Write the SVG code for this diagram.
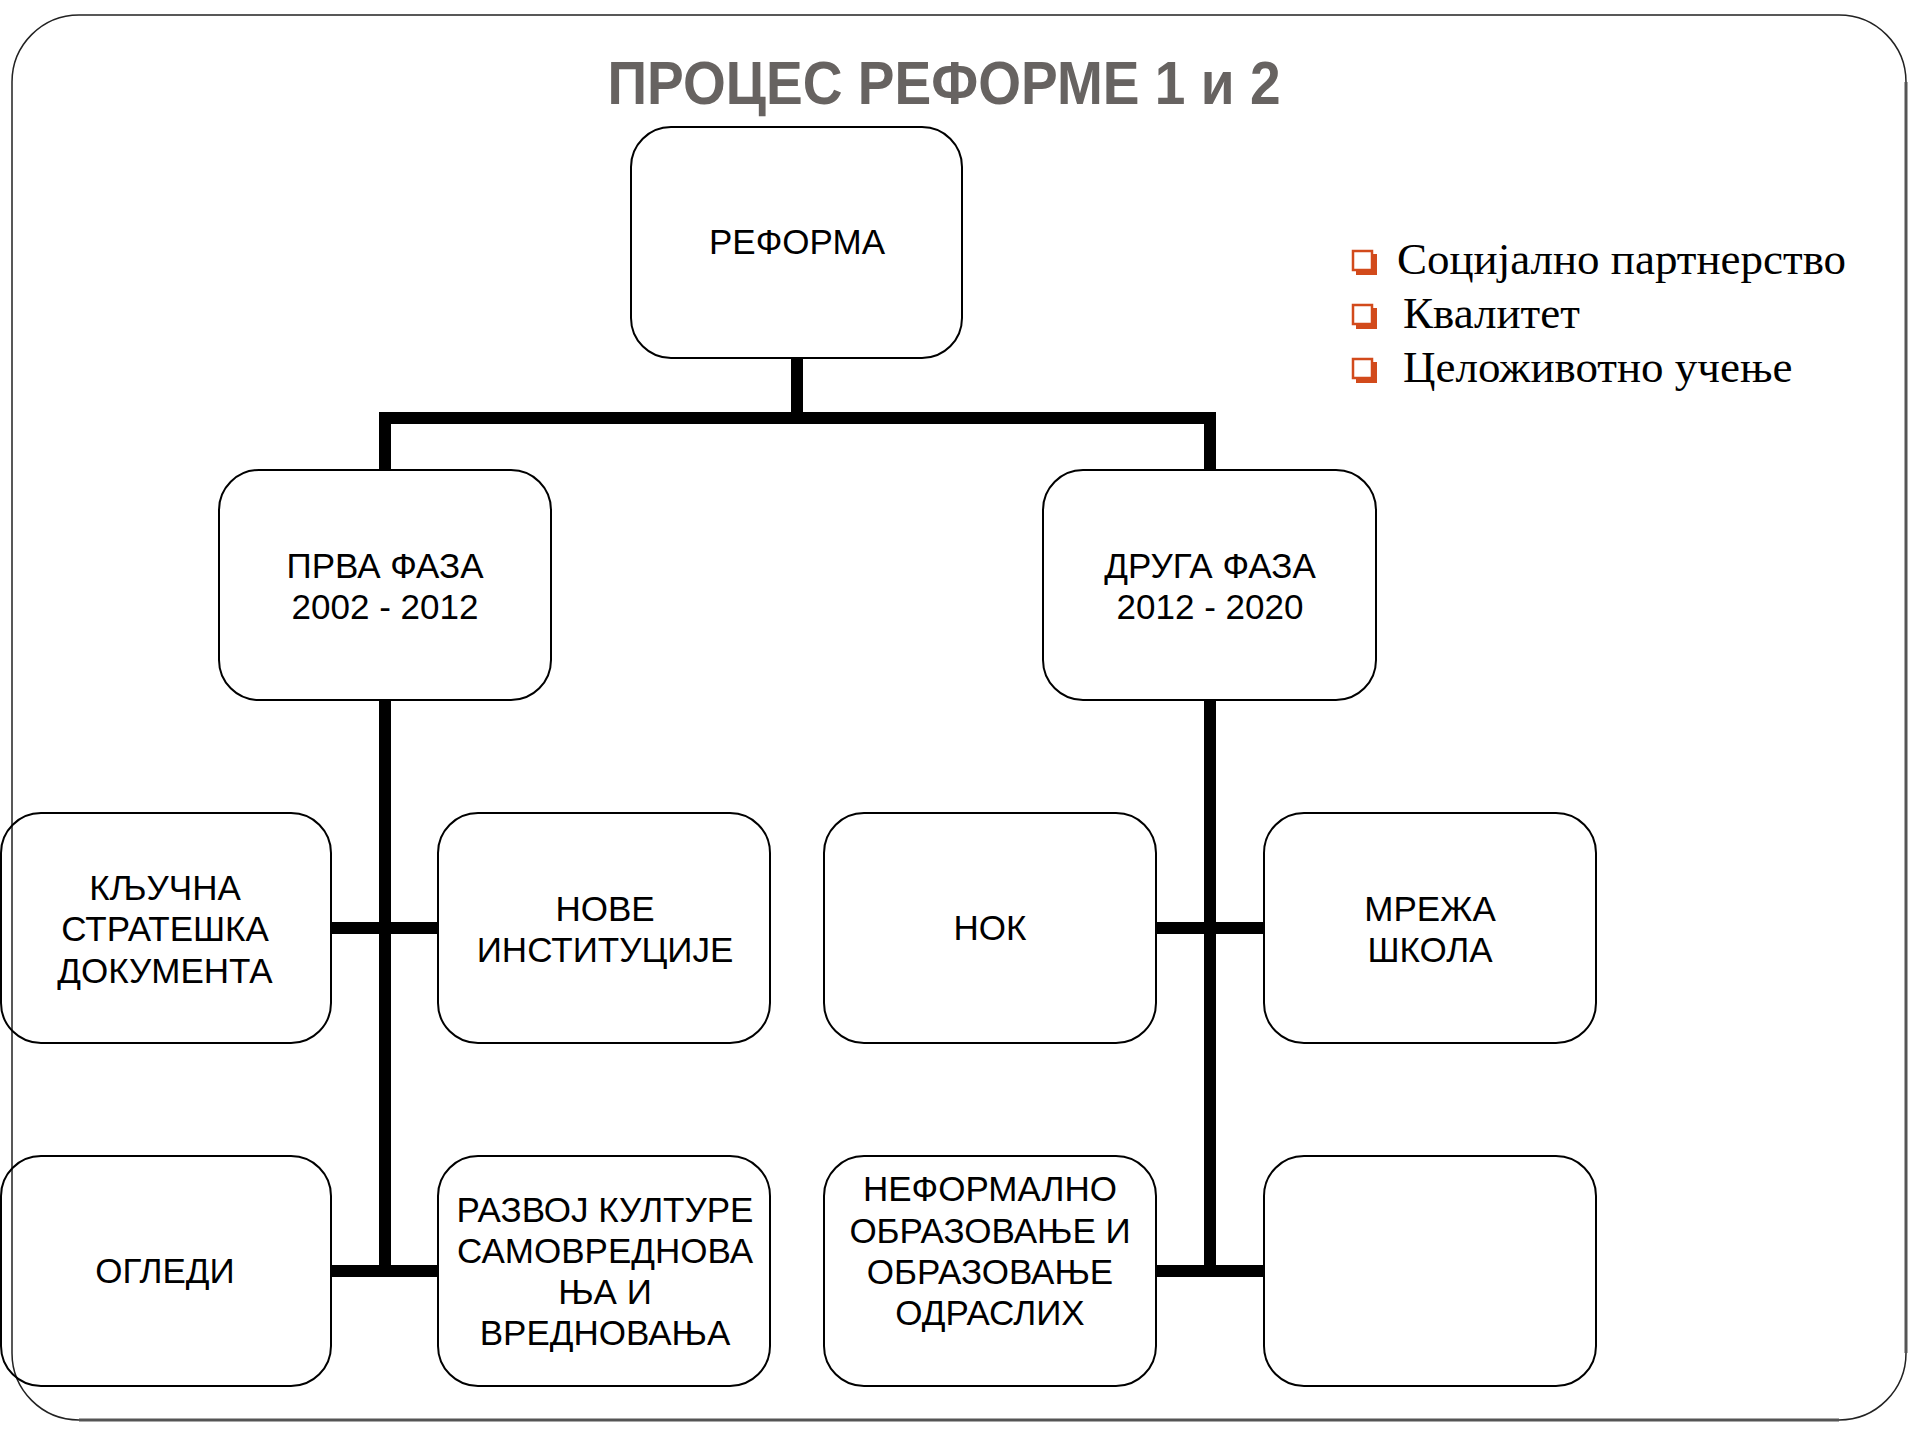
<svg xmlns="http://www.w3.org/2000/svg" width="1920" height="1440" viewBox="0 0 1920 1440">
<style>
.node rect{fill:none;stroke:#000;stroke-width:2}
.t{font-family:"Liberation Sans",Arial,sans-serif;font-size:35px;fill:#000;text-anchor:middle}
.b{font-family:"Liberation Serif","Times New Roman",serif;font-size:45px;fill:#000}
.conn{stroke:#000;stroke-width:12;fill:none;stroke-linecap:butt}
.bul{fill:none;stroke:#D24A1B;stroke-width:2.5}
.bsh{fill:#D24A1B}
</style>
<rect width="1920" height="1440" fill="#fff"/>
<g id="frame">
<rect x="12" y="15" width="1894" height="1405" rx="67" fill="none" stroke="#222" stroke-width="1.5"/>
<line x1="1906" y1="82" x2="1906" y2="1353" stroke="#555" stroke-width="3"/>
<line x1="79" y1="1420" x2="1839" y2="1420" stroke="#555" stroke-width="3"/>
</g>
<text id="title" x="944" y="104" font-family="'Liberation Sans',Arial,sans-serif" font-size="62" font-weight="bold" fill="#676361" text-anchor="middle" textLength="673" lengthAdjust="spacingAndGlyphs">ПРОЦЕС РЕФОРМЕ 1 и 2</text>
<g id="bullets">
<g><rect class="bul" x="1353" y="251" width="19" height="19"/><path class="bsh" d="M1373 254h4v21h-21v-4h17z"/><text class="b" x="1397" y="274">Социјално партнерство</text></g>
<g><rect class="bul" x="1353" y="305" width="19" height="19"/><path class="bsh" d="M1373 308h4v21h-21v-4h17z"/><text class="b" x="1403" y="328">Квалитет</text></g>
<g><rect class="bul" x="1353" y="359" width="19" height="19"/><path class="bsh" d="M1373 362h4v21h-21v-4h17z"/><text class="b" x="1403" y="382">Целоживотно учење</text></g>
</g>
<g id="connectors">
<path class="conn" d="M797 358V418M379 418H1216M385 418V470M1210 418V470"/>
<path class="conn" d="M385 700V1277M331 928H438M331 1271H438"/>
<path class="conn" d="M1210 700V1277M1156 928H1264M1156 1271H1264"/>
</g>
<g id="n-reforma" class="node"><rect x="631" y="127" width="331" height="231" rx="40"/><text class="t" x="797" y="254">РЕФОРМА</text></g>
<g id="n-prva" class="node"><rect x="219" y="470" width="332" height="230" rx="40"/><text class="t" x="385" y="578">ПРВА ФАЗА</text><text class="t" x="385" y="619">2002 - 2012</text></g>
<g id="n-druga" class="node"><rect x="1043" y="470" width="333" height="230" rx="40"/><text class="t" x="1210" y="578">ДРУГА ФАЗА</text><text class="t" x="1210" y="619">2012 - 2020</text></g>
<g id="n-kljucna" class="node"><rect x="1" y="813" width="330" height="230" rx="40"/><text class="t" x="165" y="900">КЉУЧНА</text><text class="t" x="165" y="941">СТРАТЕШКА</text><text class="t" x="165" y="983">ДОКУМЕНТА</text></g>
<g id="n-nove" class="node"><rect x="438" y="813" width="332" height="230" rx="40"/><text class="t" x="605" y="921">НОВЕ</text><text class="t" x="605" y="962">ИНСТИТУЦИЈЕ</text></g>
<g id="n-nok" class="node"><rect x="824" y="813" width="332" height="230" rx="40"/><text class="t" x="990" y="940">НОК</text></g>
<g id="n-mreza" class="node"><rect x="1264" y="813" width="332" height="230" rx="40"/><text class="t" x="1430" y="921">МРЕЖА</text><text class="t" x="1430" y="962">ШКОЛА</text></g>
<g id="n-ogledi" class="node"><rect x="1" y="1156" width="330" height="230" rx="40"/><text class="t" x="165" y="1283">ОГЛЕДИ</text></g>
<g id="n-razvoj" class="node"><rect x="438" y="1156" width="332" height="230" rx="40"/><text class="t" x="605" y="1222">РАЗВОЈ КУЛТУРЕ</text><text class="t" x="605" y="1263">САМОВРЕДНОВА</text><text class="t" x="605" y="1304">ЊА И</text><text class="t" x="605" y="1345">ВРЕДНОВАЊА</text></g>
<g id="n-neformalno" class="node"><rect x="824" y="1156" width="332" height="230" rx="40"/><text class="t" x="990" y="1201">НЕФОРМАЛНО</text><text class="t" x="990" y="1243">ОБРАЗОВАЊЕ И</text><text class="t" x="990" y="1284">ОБРАЗОВАЊЕ</text><text class="t" x="990" y="1325">ОДРАСЛИХ</text></g>
<g id="n-empty" class="node"><rect x="1264" y="1156" width="332" height="230" rx="40"/></g>
</svg>
